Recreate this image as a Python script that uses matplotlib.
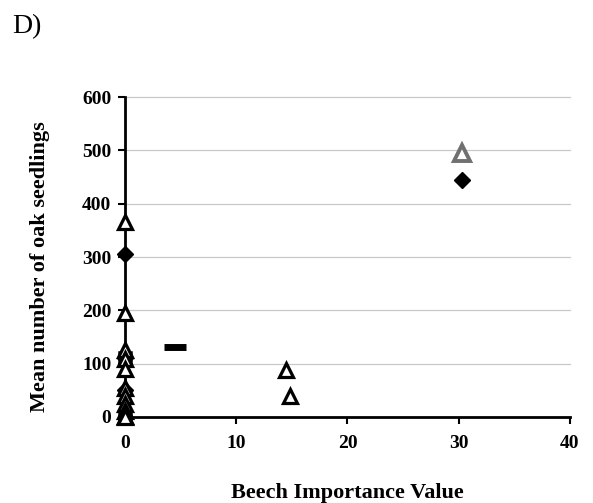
import matplotlib
matplotlib.use("Agg")
import matplotlib.pyplot as plt

# Data
tri_x = [0, 0, 0, 0, 0, 0, 0, 0, 0, 0, 0, 14.5, 14.8]
tri_y = [365, 195, 125, 108, 90, 55, 40, 25, 12, 2, 0, 88, 40]
dia_x = [0, 0, 0, 30.3]
dia_y = [305, 110, 50, 445]
sq_x = [0, 0]
sq_y = [110, 0]
grey_tri_x = [30.3]
grey_tri_y = [495]
dash_x = [4.5]
dash_y = [132]

xticks = [0, 10, 20, 30, 40]
yticks = [0, 100, 200, 300, 400, 500, 600]

plt.rcParams['font.family'] = ['Liberation Serif', 'DejaVu Serif']

fig = plt.figure(figsize=(5.93, 5.03), dpi=100)
ax = fig.add_axes([0.211, 0.171, 0.75, 0.636])

for y in yticks[1:]:
    ax.axhline(y, color='#c8c8c8', lw=0.9, zorder=0)

ax.plot(sq_x, sq_y, linestyle='none', marker='s', ms=8, mfc='none', mec='black', mew=1.8, zorder=3)
ax.plot(dia_x, dia_y, linestyle='none', marker='D', ms=8, mfc='black', mec='black', zorder=4)
ax.plot(tri_x, tri_y, linestyle='none', marker='^', ms=10, mfc='white', mec='black', mew=2.3, zorder=5)
ax.plot(grey_tri_x, grey_tri_y, linestyle='none', marker='^', ms=11, mfc='white', mec='#707070', mew=2.8, zorder=5)
ax.plot(dash_x, dash_y, linestyle='none', marker='_', ms=16, mec='black', mew=5, zorder=5)

ax.set_xlim(0, 40)
ax.set_ylim(0, 600)
ax.set_xticks(xticks)
ax.set_yticks(yticks)
ax.set_xticklabels([str(t) for t in xticks], fontsize=14, fontweight='bold')
ax.set_yticklabels([str(t) for t in yticks], fontsize=14, fontweight='bold')
ax.tick_params(axis='both', direction='out', length=5, width=1.5, pad=5)
ax.xaxis.set_tick_params(pad=8)

for s in ['top', 'right']:
    ax.spines[s].set_visible(False)
for s in ['left', 'bottom']:
    ax.spines[s].set_linewidth(2)

ax.set_xlabel('Beech Importance Value', fontsize=16, fontweight='bold')
ax.set_ylabel('Mean number of oak seedlings', fontsize=16, fontweight='bold')
ax.xaxis.set_label_coords(0.5, -0.205)
ax.yaxis.set_label_coords(-0.17, 0.47)

for ln in ax.lines:
    ln.set_clip_on(False)

fig.text(0.02, 0.935, 'D)', fontsize=20)

fig.savefig('out.png', dpi=100)
